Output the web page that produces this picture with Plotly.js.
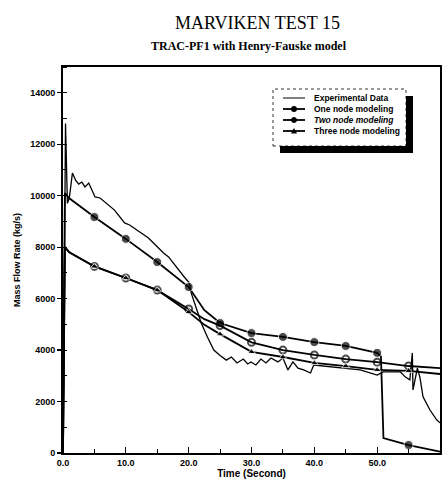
<!DOCTYPE html>
<html>
<head>
<meta charset="utf-8">
<script src="https://cdn.plot.ly/plotly-3.0.1.min.js"></script>
<style>html,body{margin:0;padding:0;background:#fff;}#chart{width:446px;height:485px;}</style>
</head>
<body>
<div id="chart"></div>
<script>
// ---- data ----
var expT = [0, 0.4, 0.7, 1.0, 1.5, 2.0, 2.5, 3.0, 3.5, 4.1, 5.1, 5.9, 8.2, 9.8, 10.6, 13.6, 16.0, 16.8, 19.3, 20.1, 20.4, 22.0, 23.0, 24.0, 24.9, 26.0, 26.8, 27.7, 28.7, 29.4, 29.9, 30.7, 31.5, 32.3, 33.1, 34.2, 35.0, 35.8, 36.6, 37.4, 38.3, 39.4, 39.9, 43.1, 47.3, 50.0, 51.0, 52.1, 53.7, 54.5, 55.2, 55.6, 55.7, 56.4, 56.8, 57.3, 58.4, 59.5, 60.0];
var expY = [0, 12800, 9700, 9900, 10880, 10600, 10450, 10530, 10340, 10490, 9950, 9910, 9440, 8940, 8860, 8355, 7770, 7620, 6840, 6610, 6220, 5050, 4500, 4000, 3810, 3610, 3730, 3500, 3650, 3460, 3540, 3420, 3650, 3500, 3690, 3540, 3690, 3230, 3540, 3300, 3230, 3110, 3420, 3340, 3230, 3030, 3150, 3150, 3150, 2950, 2840, 3890, 2450, 3300, 2950, 2180, 1670, 1280, 1170];

var oneT = [0, 0.3, 1, 5, 10, 15, 20, 22.5, 25, 30, 35, 40, 45, 50, 50.6, 51.0, 55, 60];
var oneY = [0, 10100, 9900, 9170, 8320, 7420, 6450, 5550, 5050, 4660, 4510, 4310, 4160, 3890, 3750, 580, 310, 50];

var twoT = [0, 0.3, 1, 5, 10, 15, 20, 22.5, 25, 30, 35, 40, 45, 50, 55, 60];
var twoY = [0, 8000, 7800, 7250, 6800, 6330, 5600, 5200, 4950, 4300, 4000, 3810, 3650, 3530, 3380, 3300];

var threeT = [0, 0.3, 1, 5, 10, 15, 20, 22.5, 25, 30, 35, 40, 45, 50, 55, 60];
var threeY = [0, 8000, 7800, 7250, 6800, 6330, 5480, 4980, 4620, 3930, 3730, 3500, 3380, 3230, 3190, 3070];

var seriesNames = ["Experimental Data", "One node modeling", "Two node modeling", "Three node modeling"];
var titleText = "MARVIKEN TEST 15";
var subtitleText = "TRAC-PF1 with Henry-Fauske model";
var xTitle = "Time (Second)";
var yTitle = "Mass Flow Rate (kg/s)";

// ---- layout geometry ----
var W = 446, H = 485, ML = 63, MR = 6, MT = 67, MB = 32;
var PW = W - ML - MR, PH = H - MT - MB;
function px(x) { return (x - ML) / PW; }
function py(y) { return (H - MB - y) / PH; }

function markSizes(ts, s) {
  return ts.map(function (t) { return (t > 0 && t < 60 && Math.abs(t / 5 - Math.round(t / 5)) < 1e-9) ? s : 0; });
}

var traces = [
  { x: expT, y: expY, mode: 'lines', line: { color: '#000', width: 1.3 }, name: seriesNames[0] },
  { x: oneT, y: oneY, mode: 'lines+markers', line: { color: '#000', width: 1.8 },
    marker: { symbol: 'circle', color: '#000', size: markSizes(oneT, 9) }, name: seriesNames[1] },
  { x: twoT, y: twoY, mode: 'lines+markers', line: { color: '#000', width: 1.8 },
    marker: { symbol: 'circle-open', color: '#000', size: markSizes(twoT, 7), line: { width: 2, color: '#000' } }, name: seriesNames[2] },
  { x: threeT, y: threeY, mode: 'lines+markers', line: { color: '#000', width: 1.8 },
    marker: { symbol: 'triangle-up', color: '#000', size: markSizes(threeT, 7) }, name: seriesNames[3] }
];

// ---- hand-drawn legend (paper coords) ----
var lgL = 273, lgR = 406, lgT = 89, lgB = 146, sh = 7;
var rows = [98, 109, 120, 131];
var shapes = [
  { type: 'rect', xref: 'paper', yref: 'paper', x0: px(lgL + sh), x1: px(lgR + sh), y0: py(lgB + sh), y1: py(lgT + sh),
    fillcolor: '#000', line: { width: 0 } },
  { type: 'rect', xref: 'paper', yref: 'paper', x0: px(lgL), x1: px(lgR), y0: py(lgB), y1: py(lgT),
    fillcolor: '#fff', line: { color: '#000', width: 0.8, dash: 'dot' } }
];
var annotations = [];
rows.forEach(function (ry, i) {
  shapes.push({ type: 'line', xref: 'paper', yref: 'paper', x0: px(283), x1: px(305), y0: py(ry), y1: py(ry),
    line: { color: '#000', width: i === 0 ? 1 : 1.8 } });
  if (i === 1) shapes.push({ type: 'circle', xref: 'paper', yref: 'paper', x0: px(291), x1: px(297), y0: py(ry + 3), y1: py(ry - 3), fillcolor: '#000', line: { width: 0 } });
  if (i === 2) shapes.push({ type: 'circle', xref: 'paper', yref: 'paper', x0: px(291.5), x1: px(296.5), y0: py(ry + 2.5), y1: py(ry - 2.5), fillcolor: '#000', line: { color: '#000', width: 1 } });
  if (i === 3) shapes.push({ type: 'path', xref: 'paper', yref: 'paper',
    path: 'M ' + px(291) + ' ' + py(ry + 2.5) + ' L ' + px(297) + ' ' + py(ry + 2.5) + ' L ' + px(294) + ' ' + py(ry - 3) + ' Z',
    fillcolor: '#000', line: { width: 0 } });
  annotations.push({ xref: 'paper', yref: 'paper', x: px(312), y: py(ry), xanchor: 'left', yanchor: 'middle',
    text: i === 2 ? '<i>' + seriesNames[i] + '</i>' : seriesNames[i], showarrow: false,
    font: { family: 'Liberation Sans, Arial, sans-serif', size: 8.5, color: '#000', weight: 'bold' } });
});

annotations.push({ xref: 'paper', yref: 'paper', x: px(257), y: py(23), xanchor: 'center', yanchor: 'middle',
  text: titleText, showarrow: false, font: { family: 'Liberation Serif, Times New Roman, serif', size: 18, color: '#000' } });
annotations.push({ xref: 'paper', yref: 'paper', x: px(249), y: py(46), xanchor: 'center', yanchor: 'middle',
  text: subtitleText, showarrow: false, font: { family: 'Liberation Serif, Times New Roman, serif', size: 12, color: '#000', weight: 'bold' } });

var tickFont = { family: 'Liberation Sans, Arial, sans-serif', size: 9, color: '#000', weight: 'bold' };
var layout = {
  width: W, height: H,
  margin: { l: ML, r: MR, t: MT, b: MB, pad: 0 },
  paper_bgcolor: '#fff', plot_bgcolor: '#fff',
  showlegend: false,
  xaxis: {
    range: [0, 60], dtick: 10, tick0: 0, tickformat: '.1f', ticks: 'inside', ticklen: 6, tickwidth: 1.2, tickcolor: '#000',
    minor: { dtick: 5, ticks: 'inside', ticklen: 4, tickwidth: 1, tickcolor: '#000' },
    showline: true, linecolor: '#000', linewidth: 2, mirror: true, showgrid: false, zeroline: false,
    tickfont: tickFont,
    title: { text: xTitle, standoff: 2, font: { family: 'Liberation Sans, Arial, sans-serif', size: 10, color: '#000', weight: 'bold' } }
  },
  yaxis: {
    range: [0, 15000], dtick: 2000, tick0: 0, tickformat: 'd', ticks: 'outside', ticklen: 4, tickwidth: 1.2, tickcolor: '#000',
    minor: { dtick: 1000, ticks: 'inside', ticklen: 4, tickwidth: 1, tickcolor: '#000' },
    showline: true, linecolor: '#000', linewidth: 2, mirror: true, showgrid: false, zeroline: false,
    tickfont: tickFont,
    title: { text: yTitle, standoff: 8, font: { family: 'Liberation Sans, Arial, sans-serif', size: 9, color: '#000', weight: 'bold' } }
  },
  shapes: shapes,
  annotations: annotations
};

Plotly.newPlot('chart', traces, layout, { displayModeBar: false, staticPlot: true });
</script>
</body>
</html>
